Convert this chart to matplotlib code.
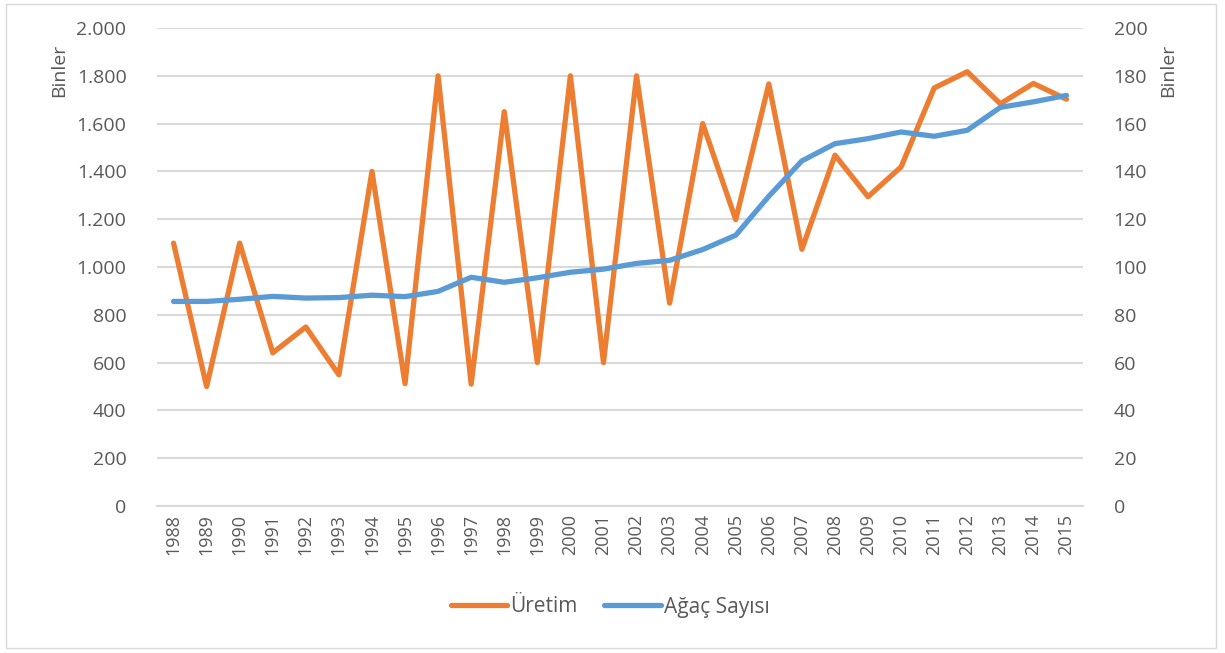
import matplotlib
matplotlib.use("Agg")
import matplotlib.pyplot as plt
from matplotlib.ticker import FuncFormatter, MultipleLocator
from matplotlib.patches import Rectangle

years = [str(y) for y in range(1988, 2016)]
uretim = [1100, 500, 1100, 641, 749, 549, 1400, 512, 1800, 510, 1650, 600,
          1800, 600, 1800, 849, 1600, 1198, 1766, 1074, 1468, 1294, 1419, 1749,
          1817, 1683, 1768, 1702]
agac = [85.6, 85.6, 86.5, 87.7, 87.0, 87.2, 88.2, 87.6, 89.8, 95.7, 93.6, 95.5,
        97.8, 99.1, 101.5, 102.8, 107.3, 113.3, 129.6, 144.4, 151.6, 153.7, 156.5,
        154.7, 157.2, 166.8, 169.1, 171.8]

plt.rcParams['font.family'] = ['Open Sans', 'DejaVu Sans']
txt = '#595959'
grid = '#D9D9D9'
orange = '#ED7D31'
blue = '#5B9BD5'

fig = plt.figure(figsize=(12.25, 6.53), dpi=100)
fig.patches.append(Rectangle((6/1225, 1 - 648/653), (1216 - 6)/1225, (648 - 4)/653,
                             transform=fig.transFigure, fill=False,
                             edgecolor=grid, linewidth=1.0))

ax = fig.add_axes([157/1225, 1 - 506/653, (1083 - 157)/1225, (506 - 28)/653])
x = list(range(len(years)))
ax.plot(x, uretim, color=orange, linewidth=3.8, solid_capstyle='round',
        solid_joinstyle='round', label='Üretim', zorder=3)
ax.set_ylim(0, 2000)
ax.set_xlim(-0.5, len(years) - 0.5)
ax.yaxis.set_major_locator(MultipleLocator(200))
ax.yaxis.set_major_formatter(FuncFormatter(lambda v, p: f"{int(v):,}".replace(',', '.')))
ax.grid(axis='y', color=grid, linewidth=1.5, zorder=0)
ax.set_axisbelow(True)
for s in ['top', 'right', 'left']:
    ax.spines[s].set_visible(False)
ax.spines['bottom'].set_color(grid)
ax.spines['bottom'].set_linewidth(1.5)
ax.set_xticks(x)
ax.set_xticklabels(years, rotation=90)
ax.tick_params(axis='both', length=0, colors=txt)
ax.tick_params(axis='y', pad=22, labelsize=14)
ax.tick_params(axis='x', pad=6, labelsize=13)
ax.set_ylabel('Binler', color=txt, fontsize=14)
ax.yaxis.set_label_coords((68 - 157)/926, (506 - 70)/478)

ax2 = ax.twinx()
ax2.plot(x, agac, color=blue, linewidth=3.8, solid_capstyle='round',
         solid_joinstyle='round', label='Ağaç Sayısı', zorder=3)
ax2.set_ylim(0, 200)
ax2.yaxis.set_major_locator(MultipleLocator(20))
for s in ['top', 'right', 'left', 'bottom']:
    ax2.spines[s].set_visible(False)
ax2.tick_params(axis='y', length=0, colors=txt, labelsize=14, pad=22)
ax2.set_ylabel('Binler', color=txt, fontsize=14)
ax2.yaxis.set_label_coords((1159 - 157)/926, (506 - 70)/478)

h1, l1 = ax.get_legend_handles_labels()
h2, l2 = ax2.get_legend_handles_labels()
fig.legend(h1 + h2, l1 + l2, loc='center', bbox_to_anchor=(610/1225, 1 - 607/653),
           ncol=2, frameon=False, fontsize=15, labelcolor=txt,
           handlelength=2.7, handletextpad=0.15, columnspacing=1.3)

fig.savefig('out.png', dpi=100)
